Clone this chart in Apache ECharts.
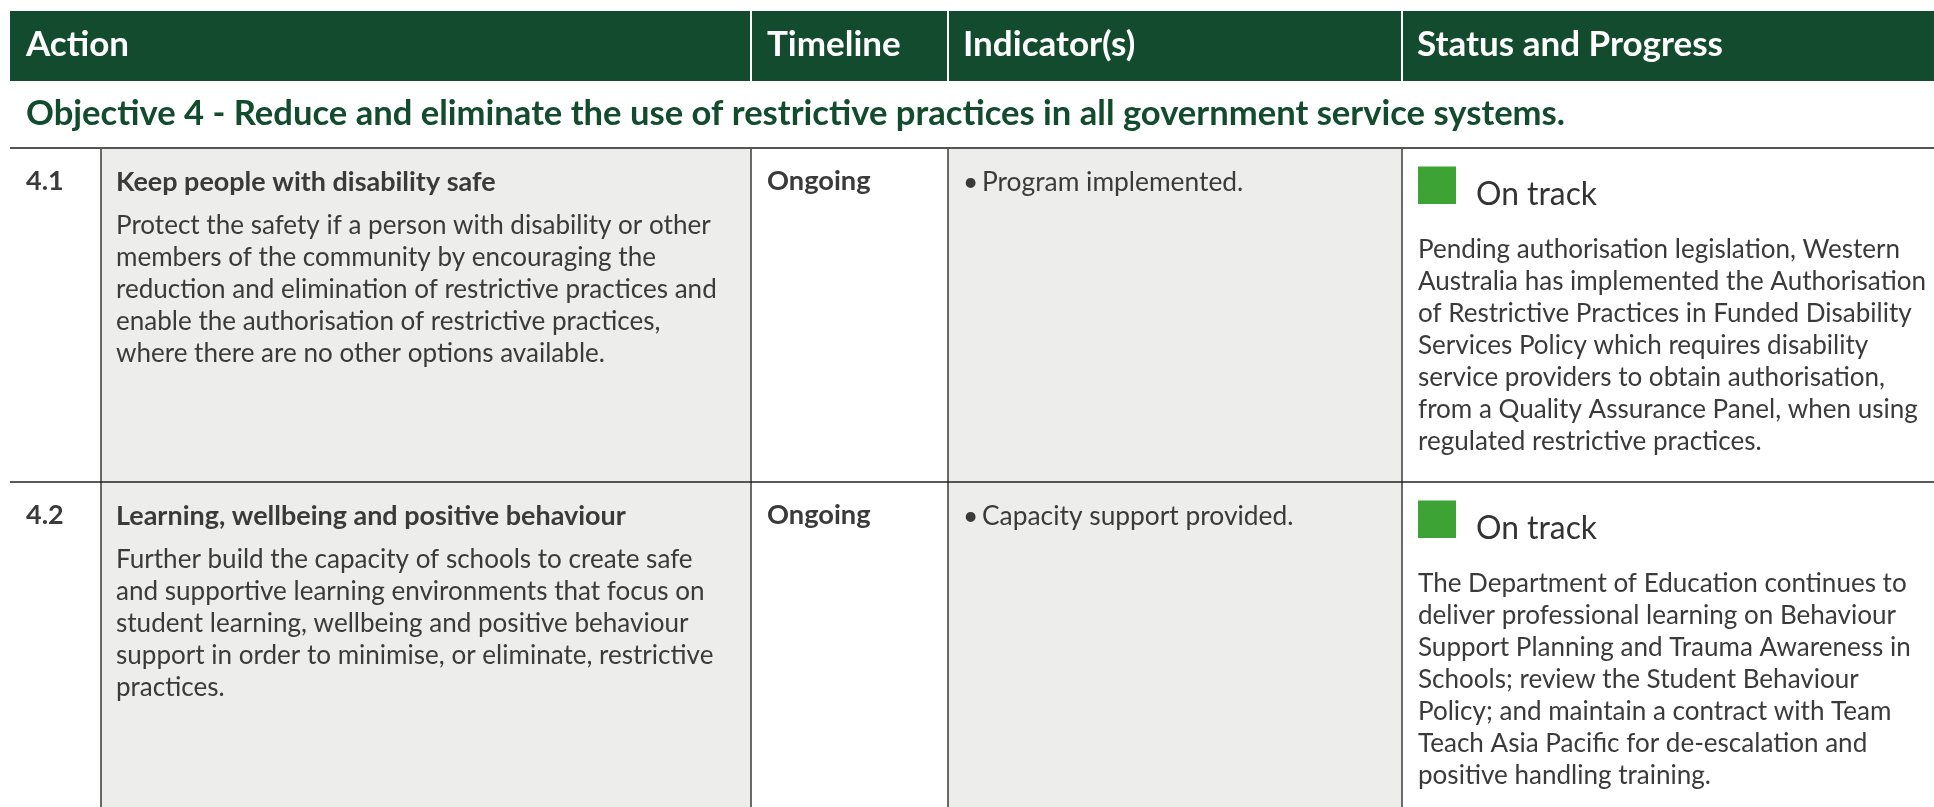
<!DOCTYPE html>
<html><head><meta charset="utf-8">
<script src="https://cdn.jsdelivr.net/npm/echarts@6/dist/echarts.min.js"></script>
<style>html,body{margin:0;padding:0;background:#fff}#c{width:1934px;height:807px}</style>
</head><body><div id="c"></div>
<script>
// ---- data ----
const headerLabels = ['Action', 'Timeline', 'Indicator(s)', 'Status and Progress'];
const objectiveText = 'Objective 4 - Reduce and eliminate the use of restrictive practices in all government service systems.';
const actionIds = ['4.1', '4.2'];
const actionTitles = ['Keep people with disability safe', 'Learning, wellbeing and positive behaviour'];
const actionBodies = [
  ['Protect the safety if a person with disability or other',
   'members of the community by encouraging the',
   'reduction and elimination of restrictive practices and',
   'enable the authorisation of restrictive practices,',
   'where there are no other options available.'],
  ['Further build the capacity of schools to create safe',
   'and supportive learning environments that focus on',
   'student learning, wellbeing and positive behaviour',
   'support in order to minimise, or eliminate, restrictive',
   'practices.']
];
const timelines = ['Ongoing', 'Ongoing'];
const indicators = ['Program implemented.', 'Capacity support provided.'];
const statuses = ['On track', 'On track'];
const progressNotes = [
  ['Pending authorisation legislation, Western',
   'Australia has implemented the Authorisation',
   'of Restrictive Practices in Funded Disability',
   'Services Policy which requires disability',
   'service providers to obtain authorisation,',
   'from a Quality Assurance Panel, when using',
   'regulated restrictive practices.'],
  ['The Department of Education continues to',
   'deliver professional learning on Behaviour',
   'Support Planning and Trauma Awareness in',
   'Schools; review the Student Behaviour',
   'Policy; and maintain a contract with Team',
   'Teach Asia Pacific for de-escalation and',
   'positive handling training.']
];

// ---- layout & style ----
const W = 1934, H = 807;
const colEdges = [10, 101, 751, 948, 1402, W];
const HEAD_TOP = 11, HEAD_BOT = 81;
const TABLE_TOP = 148, ROW_H = 334;
const GREEN_DARK = '#124B2D', GREEN = '#3DA335', GREY_BG = '#EDEEEB', TXT = '#3A3A3A', LINE = '#3A3A3A';
const statusColor = { 'On track': GREEN };
const FAM = 'Lato, sans-serif', SFAM = 'Lato, sans-serif';

const mctx = document.createElement('canvas').getContext('2d');
function fit(text, weight, family, width) {
  mctx.font = weight + ' 100px ' + family;
  return 100 * width / mctx.measureText(text).width;
}
const headFS = fit(headerLabels[3], '700', FAM, 306);
const objFS = fit(objectiveText, '700', FAM, 1539);
const titleFS = fit(actionTitles[1], '700', FAM, 510);
const numFS = titleFS;
const bodyFS = fit(actionBodies[0][0], '400', FAM, 595);
const timeFS = fit(timelines[0], '700', FAM, 103.6);
const indFS = fit(indicators[1], '400', FAM, 311.6);
const statFS = fit(statuses[0], '400', SFAM, 121);
const noteFS = Math.min(
  fit(progressNotes[0][1], '400', SFAM, 508),
  fit(progressNotes[1][2], '400', SFAM, 505),
  fit(progressNotes[1][0], '400', SFAM, 500));

function txt(api, x, baseline, text, fs, weight, fill, family) {
  const p = api.coord([x, baseline - 0.32 * fs]);
  return { type: 'text', silent: true, style: {
    x: p[0], y: p[1], text: text, fill: fill,
    font: weight + ' ' + fs.toFixed(2) + 'px ' + (family || FAM),
    align: 'left', verticalAlign: 'middle' } };
}
function rect(api, x0, y0, x1, y1, fill) {
  const a = api.coord([x0, y0]), b = api.coord([x1, y1]);
  return { type: 'rect', silent: true, shape: { x: a[0], y: a[1], width: b[0] - a[0], height: b[1] - a[1] }, style: { fill: fill } };
}
function line(api, x0, y0, x1, y1, stroke, w) {
  const a = api.coord([x0, y0]), b = api.coord([x1, y1]);
  return { type: 'line', silent: true, shape: { x1: a[0], y1: a[1], x2: b[0], y2: b[1] }, style: { stroke: stroke, lineWidth: w } };
}

function renderHeader(params, api) {
  const ch = [];
  ch.push(rect(api, colEdges[0], HEAD_TOP, W, HEAD_BOT, GREEN_DARK));
  [2, 3, 4].forEach(i => ch.push(line(api, colEdges[i], HEAD_TOP, colEdges[i], HEAD_BOT, '#ffffff', 2)));
  const hx = [26, 767, 963, 1417];
  headerLabels.forEach((t, i) => ch.push(txt(api, hx[i], 56, t, headFS, '700', '#ffffff')));
  ch.push(txt(api, 26, 125, objectiveText, objFS, '700', GREEN_DARK));
  // grey column backgrounds
  ch.push(rect(api, colEdges[1], TABLE_TOP, colEdges[2], H, GREY_BG));
  ch.push(rect(api, colEdges[3], TABLE_TOP, colEdges[4], H, GREY_BG));
  [1, 2, 3, 4].forEach(i => ch.push(line(api, colEdges[i], TABLE_TOP, colEdges[i], H, LINE, 1.5)));
  ch.push(line(api, colEdges[0], TABLE_TOP, W, TABLE_TOP, '#555555', 2.2));
  return { type: 'group', children: ch };
}

function renderRow(params, api) {
  const r = api.value(0);
  const top = TABLE_TOP + r * ROW_H;
  const ch = [];
  if (r > 0) ch.push(line(api, colEdges[0], top, W, top, '#222222', 1.6));
  ch.push(txt(api, 26, top + 42, actionIds[r], numFS, '700', TXT));
  ch.push(txt(api, 116, top + 43, actionTitles[r], titleFS, '700', TXT));
  actionBodies[r].forEach((l, k) => ch.push(txt(api, 116, top + 86 + 32 * k, l, bodyFS, '400', TXT)));
  ch.push(txt(api, 767, top + 42, timelines[r], timeFS, '700', TXT));
  ch.push(txt(api, 963, top + 43, '\u2022', indFS, '400', TXT));
  ch.push(txt(api, 982, top + 43, indicators[r], indFS, '400', TXT));
  ch.push(rect(api, 1418, top + 18.5, 1456, top + 56, statusColor[statuses[r]]));
  ch.push(txt(api, 1476, top + 57, statuses[r], statFS, '400', '#333333', SFAM));
  progressNotes[r].forEach((l, k) => ch.push(txt(api, 1418, top + 110 + 32 * k, l, noteFS, '400', TXT, SFAM)));
  return { type: 'group', children: ch };
}

const chart = echarts.init(document.getElementById('c'), null, { renderer: 'canvas' });
chart.setOption({
  animation: false,
  backgroundColor: '#ffffff',
  grid: { left: 0, right: 0, top: 0, bottom: 0 },
  xAxis: { type: 'value', min: 0, max: W, show: false },
  yAxis: { type: 'value', min: 0, max: H, inverse: true, show: false },
  series: [
    { type: 'custom', renderItem: renderHeader, data: [[0]], silent: true, clip: false },
    { type: 'custom', renderItem: renderRow, data: actionIds.map((_, i) => [i]), silent: true, clip: false }
  ]
});
</script></body></html>
